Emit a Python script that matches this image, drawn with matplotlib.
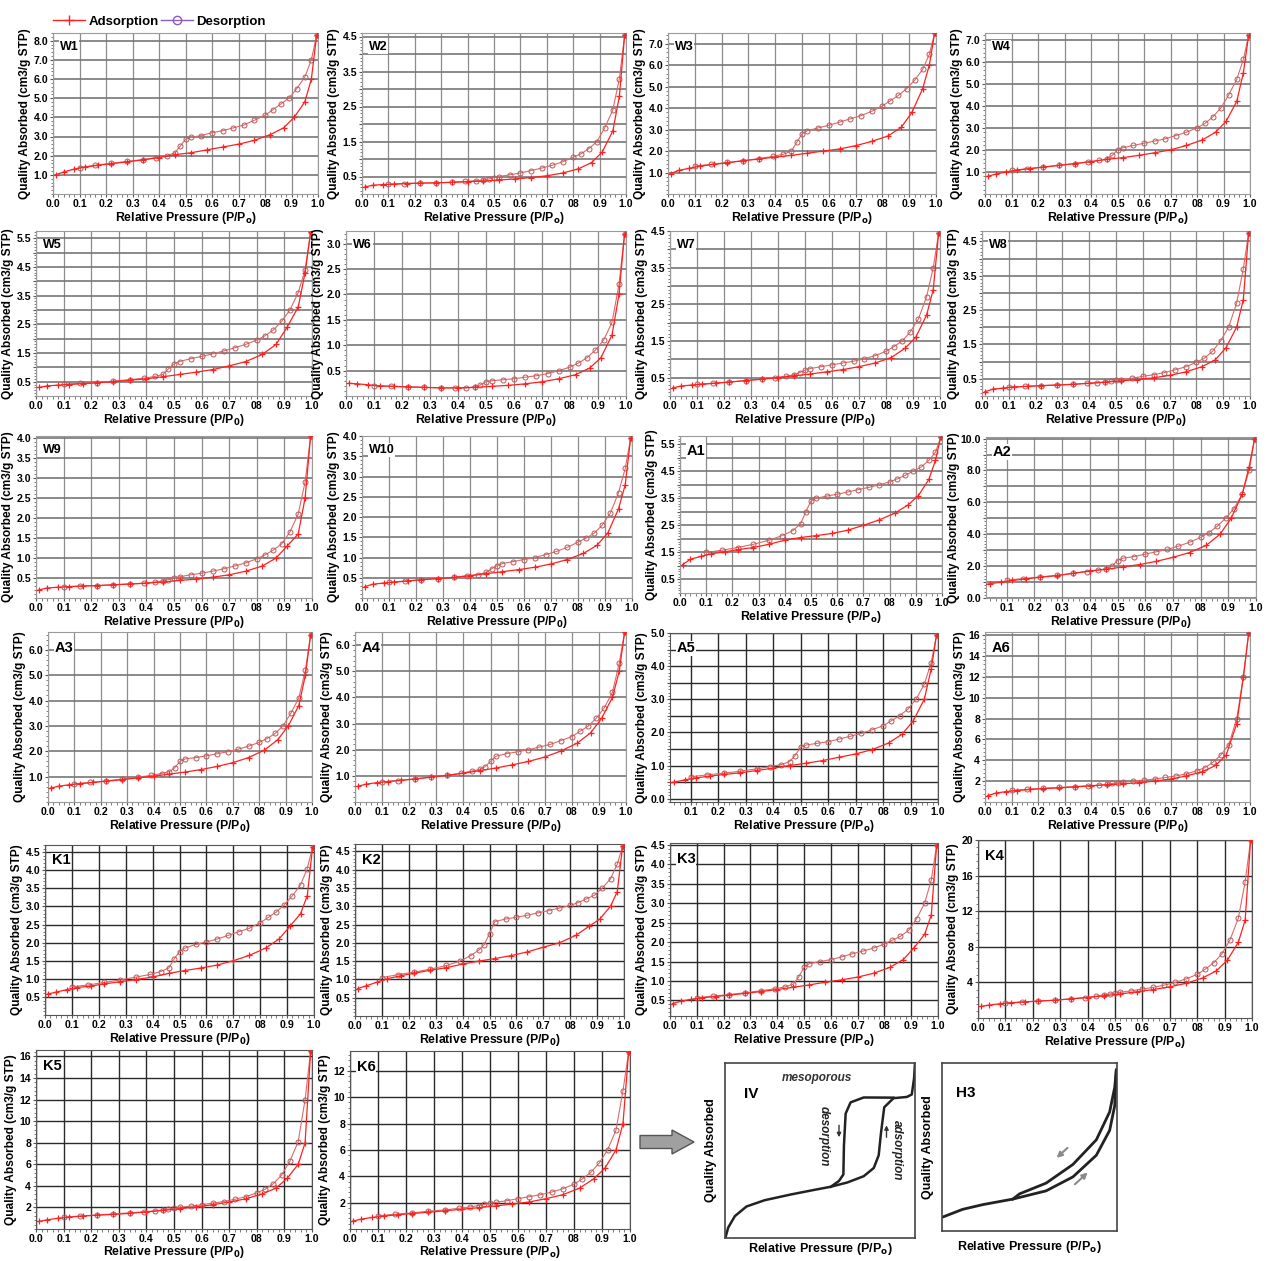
import numpy as np
import matplotlib.pyplot as plt
from matplotlib.lines import Line2D
from matplotlib.patches import FancyArrow
from matplotlib.ticker import FixedLocator, FixedFormatter, MultipleLocator

plt.rcParams['font.family'] = ['Liberation Sans', 'DejaVu Sans']
plt.rcParams['font.weight'] = 'bold'

# relative pressure of the measured points (shared by every sample)
P_ADS = [0.01, 0.04, 0.08, 0.12, 0.17, 0.22, 0.28, 0.34, 0.4, 0.46, 0.52,
         0.58, 0.64, 0.7, 0.76, 0.82, 0.87, 0.91, 0.95, 0.975, 0.995]
P_DES = [0.995, 0.975, 0.95, 0.92, 0.89, 0.86, 0.83, 0.8, 0.76, 0.72, 0.68,
         0.64, 0.6, 0.56, 0.52, 0.5, 0.48, 0.46, 0.43, 0.39, 0.34, 0.28,
         0.22, 0.16, 0.1]

W1_ADS = [1.0, 1.15, 1.3, 1.4, 1.5, 1.58, 1.68, 1.78, 1.9, 2.05, 2.15, 2.3, 2.45, 2.6, 2.8, 3.1, 3.45, 4.0, 4.8, 6.0, 8.3]
W1_DES = [8.3, 7.0, 6.1, 5.5, 5.0, 4.7, 4.4, 4.1, 3.85, 3.6, 3.45, 3.3, 3.2, 3.05, 2.95, 2.85, 2.5, 2.15, 2.0, 1.9, 1.8, 1.7, 1.6, 1.5, 1.38]
W2_ADS = [0.2, 0.25, 0.27, 0.28, 0.3, 0.31, 0.32, 0.33, 0.35, 0.37, 0.4, 0.43, 0.47, 0.52, 0.6, 0.72, 0.9, 1.2, 1.8, 2.8, 4.55]
W2_DES = [4.55, 3.3, 2.4, 1.9, 1.5, 1.3, 1.15, 1.05, 0.92, 0.82, 0.74, 0.67, 0.6, 0.55, 0.5, 0.47, 0.43, 0.4, 0.38, 0.36, 0.34, 0.32, 0.31, 0.3, 0.28]
W3_ADS = [0.95, 1.1, 1.2, 1.3, 1.38, 1.45, 1.55, 1.63, 1.72, 1.8, 1.9, 2.0, 2.1, 2.25, 2.45, 2.7, 3.1, 3.8, 4.9, 6.0, 7.5]
W3_DES = [7.5, 6.5, 5.8, 5.3, 4.9, 4.6, 4.35, 4.1, 3.85, 3.65, 3.5, 3.35, 3.2, 3.08, 2.95, 2.8, 2.4, 2.0, 1.85, 1.75, 1.65, 1.55, 1.47, 1.38, 1.3]
W4_ADS = [0.8, 0.9, 1.0, 1.08, 1.15, 1.22, 1.3, 1.38, 1.47, 1.57, 1.65, 1.75, 1.87, 2.0, 2.2, 2.45, 2.8, 3.3, 4.2, 5.5, 7.2]
W4_DES = [7.2, 6.1, 5.2, 4.5, 3.9, 3.5, 3.2, 3.0, 2.8, 2.65, 2.5, 2.4, 2.3, 2.2, 2.1, 2.0, 1.75, 1.6, 1.52, 1.45, 1.38, 1.3, 1.22, 1.15, 1.07]
W5_ADS = [0.3, 0.35, 0.38, 0.4, 0.43, 0.46, 0.5, 0.55, 0.6, 0.67, 0.75, 0.83, 0.92, 1.05, 1.2, 1.45, 1.8, 2.4, 3.1, 4.3, 5.7]
W5_DES = [5.7, 4.4, 3.6, 3.0, 2.6, 2.3, 2.1, 1.95, 1.8, 1.68, 1.57, 1.47, 1.38, 1.3, 1.2, 1.12, 0.95, 0.75, 0.68, 0.62, 0.57, 0.52, 0.47, 0.44, 0.41]
W6_ADS = [0.25, 0.24, 0.22, 0.2, 0.19, 0.18, 0.17, 0.16, 0.16, 0.17, 0.19, 0.21, 0.24, 0.28, 0.34, 0.42, 0.55, 0.75, 1.2, 2.0, 3.2]
W6_DES = [3.2, 2.2, 1.45, 1.1, 0.9, 0.75, 0.65, 0.57, 0.5, 0.44, 0.4, 0.37, 0.34, 0.32, 0.3, 0.28, 0.22, 0.18, 0.16, 0.16, 0.16, 0.17, 0.18, 0.19, 0.2]
W7_ADS = [0.22, 0.27, 0.3, 0.32, 0.35, 0.38, 0.42, 0.46, 0.5, 0.55, 0.6, 0.66, 0.72, 0.8, 0.9, 1.05, 1.3, 1.6, 2.2, 2.9, 4.45]
W7_DES = [4.45, 3.5, 2.7, 2.1, 1.75, 1.5, 1.35, 1.22, 1.1, 1.02, 0.95, 0.9, 0.85, 0.8, 0.75, 0.7, 0.64, 0.58, 0.54, 0.5, 0.46, 0.42, 0.38, 0.35, 0.32]
W8_ADS = [0.12, 0.2, 0.23, 0.26, 0.28, 0.3, 0.32, 0.34, 0.37, 0.4, 0.44, 0.48, 0.53, 0.6, 0.7, 0.85, 1.05, 1.4, 2.0, 2.8, 4.75]
W8_DES = [4.75, 3.7, 2.7, 2.0, 1.6, 1.3, 1.1, 0.98, 0.85, 0.76, 0.68, 0.62, 0.57, 0.52, 0.48, 0.46, 0.43, 0.41, 0.39, 0.37, 0.34, 0.32, 0.3, 0.28, 0.26]
W9_ADS = [0.2, 0.25, 0.27, 0.28, 0.3, 0.31, 0.33, 0.35, 0.37, 0.4, 0.44, 0.47, 0.52, 0.58, 0.67, 0.8, 1.0, 1.3, 1.6, 2.5, 4.05]
W9_DES = [4.05, 2.9, 2.1, 1.65, 1.35, 1.2, 1.08, 0.98, 0.88, 0.8, 0.73, 0.67, 0.62, 0.58, 0.53, 0.5, 0.46, 0.43, 0.4, 0.37, 0.35, 0.33, 0.31, 0.3, 0.28]
W10_ADS = [0.28, 0.34, 0.37, 0.39, 0.42, 0.45, 0.48, 0.51, 0.55, 0.6, 0.65, 0.7, 0.76, 0.84, 0.95, 1.1, 1.3, 1.6, 2.2, 2.8, 3.95]
W10_DES = [3.95, 3.2, 2.6, 2.1, 1.8, 1.6, 1.48, 1.38, 1.25, 1.15, 1.07, 1.0, 0.95, 0.9, 0.85, 0.8, 0.72, 0.63, 0.58, 0.55, 0.51, 0.48, 0.45, 0.42, 0.39]
A1_ADS = [1.05, 1.25, 1.35, 1.45, 1.52, 1.6, 1.68, 1.8, 1.95, 2.05, 2.12, 2.2, 2.32, 2.5, 2.7, 2.95, 3.25, 3.6, 4.2, 4.9, 5.75]
A1_DES = [5.75, 5.2, 4.9, 4.65, 4.5, 4.35, 4.22, 4.1, 4.0, 3.9, 3.82, 3.73, 3.65, 3.58, 3.5, 3.4, 3.0, 2.55, 2.3, 2.12, 1.95, 1.8, 1.68, 1.58, 1.5]
A2_ADS = [0.8, 0.9, 1.0, 1.1, 1.2, 1.3, 1.4, 1.55, 1.7, 1.8, 1.95, 2.1, 2.3, 2.55, 2.85, 3.3, 4.0, 5.0, 6.5, 8.2, 10.0]
A2_DES = [10.0, 8.0, 6.5, 5.6, 5.0, 4.5, 4.1, 3.8, 3.5, 3.25, 3.05, 2.9, 2.75, 2.6, 2.5, 2.35, 2.0, 1.85, 1.75, 1.65, 1.55, 1.42, 1.32, 1.22, 1.12]
A3_ADS = [0.55, 0.62, 0.68, 0.72, 0.77, 0.82, 0.88, 0.95, 1.02, 1.1, 1.18, 1.28, 1.4, 1.55, 1.75, 2.05, 2.45, 3.0, 3.8, 5.0, 6.6]
A3_DES = [6.6, 5.2, 4.1, 3.5, 3.0, 2.7, 2.5, 2.35, 2.2, 2.08, 1.98, 1.9, 1.82, 1.75, 1.7, 1.6, 1.35, 1.2, 1.12, 1.05, 0.97, 0.9, 0.83, 0.77, 0.72]
A4_ADS = [0.6, 0.68, 0.74, 0.78, 0.83, 0.88, 0.95, 1.02, 1.1, 1.2, 1.3, 1.42, 1.55, 1.72, 1.95, 2.25, 2.65, 3.2, 4.0, 5.0, 6.5]
A4_DES = [6.5, 5.3, 4.2, 3.6, 3.2, 2.9, 2.7, 2.5, 2.35, 2.2, 2.1, 2.0, 1.92, 1.85, 1.75, 1.55, 1.35, 1.25, 1.18, 1.1, 1.02, 0.95, 0.88, 0.82, 0.77]
A5_ADS = [0.45, 0.5, 0.57, 0.63, 0.68, 0.73, 0.78, 0.85, 0.92, 1.0, 1.07, 1.15, 1.25, 1.35, 1.48, 1.68, 1.95, 2.35, 3.0, 3.9, 4.95]
A5_DES = [4.95, 4.1, 3.45, 3.0, 2.7, 2.5, 2.35, 2.2, 2.08, 1.97, 1.88, 1.8, 1.72, 1.67, 1.62, 1.55, 1.3, 1.12, 1.03, 0.97, 0.9, 0.83, 0.77, 0.72, 0.66]
A6_ADS = [0.6, 0.85, 1.0, 1.1, 1.2, 1.28, 1.35, 1.45, 1.55, 1.65, 1.75, 1.85, 2.0, 2.2, 2.5, 2.9, 3.5, 4.5, 7.5, 12.0, 16.2]
A6_DES = [16.2, 12.0, 8.0, 5.5, 4.5, 3.8, 3.3, 3.0, 2.7, 2.5, 2.35, 2.2, 2.1, 2.0, 1.9, 1.85, 1.78, 1.7, 1.62, 1.55, 1.48, 1.4, 1.32, 1.22, 1.12]
K1_ADS = [0.58, 0.63, 0.7, 0.76, 0.8, 0.86, 0.92, 0.98, 1.05, 1.15, 1.23, 1.3, 1.38, 1.5, 1.65, 1.85, 2.1, 2.45, 2.8, 3.3, 4.65]
K1_DES = [4.65, 4.05, 3.6, 3.3, 3.05, 2.85, 2.7, 2.55, 2.4, 2.3, 2.2, 2.1, 2.02, 1.95, 1.85, 1.75, 1.55, 1.3, 1.2, 1.12, 1.05, 0.97, 0.9, 0.83, 0.78]
K2_ADS = [0.75, 0.82, 0.92, 1.02, 1.1, 1.17, 1.25, 1.32, 1.42, 1.5, 1.57, 1.65, 1.75, 1.88, 2.0, 2.2, 2.45, 2.65, 3.0, 3.4, 4.65]
K2_DES = [4.65, 4.15, 3.75, 3.5, 3.3, 3.2, 3.1, 3.02, 2.95, 2.88, 2.82, 2.75, 2.7, 2.65, 2.58, 2.25, 1.95, 1.8, 1.65, 1.5, 1.38, 1.28, 1.2, 1.13, 1.05]
K3_ADS = [0.42, 0.48, 0.53, 0.57, 0.6, 0.64, 0.68, 0.73, 0.78, 0.84, 0.9, 0.97, 1.03, 1.1, 1.2, 1.35, 1.55, 1.85, 2.2, 2.7, 4.5]
K3_DES = [4.5, 3.6, 3.0, 2.6, 2.3, 2.15, 2.05, 1.95, 1.85, 1.77, 1.7, 1.62, 1.55, 1.5, 1.45, 1.35, 1.1, 0.92, 0.85, 0.8, 0.75, 0.7, 0.65, 0.61, 0.57]
K4_ADS = [1.3, 1.45, 1.6, 1.7, 1.8, 1.9, 2.0, 2.15, 2.3, 2.5, 2.7, 2.95, 3.2, 3.5, 3.9, 4.5, 5.3, 6.5, 8.5, 11.0, 20.0]
K4_DES = [20.0, 15.3, 11.2, 8.8, 7.2, 6.2, 5.5, 4.9, 4.4, 4.0, 3.7, 3.45, 3.25, 3.05, 2.9, 2.8, 2.7, 2.6, 2.45, 2.3, 2.15, 2.0, 1.9, 1.8, 1.7]
K5_ADS = [0.7, 0.85, 1.0, 1.1, 1.2, 1.28, 1.35, 1.45, 1.58, 1.72, 1.88, 2.05, 2.25, 2.5, 2.8, 3.25, 3.8, 4.7, 6.0, 8.0, 16.5]
K5_DES = [16.5, 12.0, 8.1, 6.3, 5.0, 4.2, 3.7, 3.35, 3.0, 2.75, 2.55, 2.4, 2.25, 2.12, 2.0, 1.92, 1.85, 1.78, 1.68, 1.6, 1.5, 1.4, 1.3, 1.2, 1.1]
K6_ADS = [0.6, 0.75, 0.88, 0.98, 1.08, 1.17, 1.27, 1.38, 1.5, 1.62, 1.75, 1.9, 2.05, 2.3, 2.6, 3.1, 3.8, 4.6, 6.0, 8.0, 13.4]
K6_DES = [13.4, 10.5, 7.5, 6.0, 5.0, 4.3, 3.8, 3.4, 3.05, 2.8, 2.6, 2.45, 2.3, 2.15, 2.02, 1.95, 1.87, 1.78, 1.68, 1.58, 1.45, 1.35, 1.22, 1.12, 1.0]

NAMES = ['W1', 'W2', 'W3', 'W4', 'W5', 'W6', 'W7', 'W8', 'W9', 'W10',
         'A1', 'A2', 'A3', 'A4', 'A5', 'A6', 'K1', 'K2', 'K3', 'K4', 'K5', 'K6']
ADS = [W1_ADS, W2_ADS, W3_ADS, W4_ADS, W5_ADS, W6_ADS, W7_ADS, W8_ADS, W9_ADS, W10_ADS,
       A1_ADS, A2_ADS, A3_ADS, A4_ADS, A5_ADS, A6_ADS, K1_ADS, K2_ADS, K3_ADS, K4_ADS, K5_ADS, K6_ADS]
DES = [W1_DES, W2_DES, W3_DES, W4_DES, W5_DES, W6_DES, W7_DES, W8_DES, W9_DES, W10_DES,
       A1_DES, A2_DES, A3_DES, A4_DES, A5_DES, A6_DES, K1_DES, K2_DES, K3_DES, K4_DES, K5_DES, K6_DES]

# y axis: limits, grid step and which ticks carry a label
YMIN = [0, 0, 0, 0, 0, 0, 0, 0, 0, 0, 0, 0, 0, 0, -0.1, 0, 0, 0, 0.1, 0, 0, 0]
YMAX = [8.4, 4.6, 7.5, 7.3, 5.75, 3.25, 4.5, 4.8, 4.05, 4.0, 5.8, 10.1, 6.7, 6.5, 5.0, 16.3,
        4.7, 4.7, 4.55, 20.0, 16.6, 13.5]
YSTEP = [1.0, 0.5, 1.0, 1.0, 0.5, 0.5, 0.5, 0.5, 0.5, 0.5, 0.5, 1.0, 1.0, 1.0, 0.5, 2,
         0.5, 0.5, 0.5, 4, 2, 2]
YLAB = [[1, 2, 3, 4, 5, 6, 7, 8], [0.5, 1.5, 2.5, 3.5, 4.5], [1, 2, 3, 4, 5, 6, 7],
        [1, 2, 3, 4, 5, 6, 7], [0.5, 1.5, 2.5, 3.5, 4.5, 5.5], [0.5, 1.0, 1.5, 2.0, 2.5, 3.0],
        [0.5, 1.5, 2.5, 3.5, 4.5], [0.5, 1.5, 2.5, 3.5, 4.5],
        [0.5, 1.0, 1.5, 2.0, 2.5, 3.0, 3.5, 4.0], [0.5, 1.0, 1.5, 2.0, 2.5, 3.0, 3.5, 4.0],
        [0.5, 1.5, 2.5, 3.5, 4.5, 5.5], [0, 2, 4, 6, 8, 10], [1, 2, 3, 4, 5, 6],
        [1, 2, 3, 4, 5, 6], [0, 1, 2, 3, 4, 5], [2, 4, 6, 8, 10, 12, 14, 16],
        [0.5, 1.0, 1.5, 2.0, 2.5, 3.0, 3.5, 4.0, 4.5], [0.5, 1.0, 1.5, 2.0, 2.5, 3.0, 3.5, 4.0, 4.5],
        [0.5, 1.0, 1.5, 2.0, 2.5, 3.0, 3.5, 4.0, 4.5], [4, 8, 12, 16, 20],
        [2, 4, 6, 8, 10, 12, 14, 16], [2, 4, 6, 8, 10, 12]]
XTICKS = [0.0, 0.1, 0.2, 0.3, 0.4, 0.5, 0.6, 0.7, 0.8, 0.9, 1.0]
XTICKLABELS = ['0.0', '0.1', '0.2', '0.3', '0.4', '0.5', '0.6', '0.7', '08', '0.9', '1.0']
SUBSCRIPT = ['o', 'o', 'o', 'o', '0', '0', '0', '0', '0', '0',
             'o', '0', '0', '0', 'o', '0', '0', '0', 'o', 'o', '0', 'o']

# schematic curves (normalised units)
IV_ADS_X = [0.003, 0.017, 0.052, 0.113, 0.209, 0.348, 0.47, 0.557, 0.643, 0.73, 0.783, 0.809,
            0.821, 0.838, 0.887, 0.957, 0.983, 0.995, 1.0]
IV_ADS_Y = [0.005, 0.06, 0.125, 0.18, 0.216, 0.249, 0.275, 0.293, 0.317, 0.353, 0.4, 0.473,
            0.6, 0.747, 0.799, 0.806, 0.82, 0.912, 1.0]
IV_DES_X = [0.887, 0.73, 0.661, 0.635, 0.626, 0.623, 0.6, 0.557]
IV_DES_Y = [0.802, 0.803, 0.775, 0.711, 0.528, 0.363, 0.326, 0.293]
H3_ADS_X = [0.004, 0.118, 0.233, 0.405, 0.595, 0.748, 0.882, 0.958, 0.987, 0.996]
H3_ADS_Y = [0.083, 0.129, 0.157, 0.19, 0.239, 0.322, 0.451, 0.599, 0.746, 0.958]
H3_DES_X = [0.405, 0.443, 0.595, 0.748, 0.882, 0.958, 0.987, 0.996]
H3_DES_Y = [0.19, 0.221, 0.285, 0.396, 0.543, 0.709, 0.856, 0.958]

W, H = 1268, 1261
BOXES = {
    'W1': (53, 318, 33, 194), 'W2': (362, 626, 33, 194), 'W3': (668, 936, 33, 194),
    'W4': (985, 1250, 33, 194),
    'W5': (36, 312, 231, 396), 'W6': (346, 626, 231, 396), 'W7': (670, 940, 231, 396),
    'W8': (982, 1250, 231, 396),
    'W9': (36, 312, 436, 598), 'W10': (362, 632, 436, 598), 'A1': (680, 942, 436, 593),
    'A2': (986, 1256, 437, 598),
    'A3': (48, 312, 632, 802), 'A4': (355, 626, 632, 802), 'A5': (670, 938, 633, 802),
    'A6': (985, 1250, 632, 802),
    'K1': (45, 314, 845, 1015), 'K2': (355, 624, 844, 1016), 'K3': (670, 938, 843, 1016),
    'K4': (978, 1252, 840, 1018),
    'K5': (36, 312, 1050, 1229), 'K6': (350, 630, 1051, 1229),
    'IV': (725, 915, 1063, 1238), 'H3': (942, 1117, 1063, 1231),
}

ADS_C = '#ff2020'
DES_C = '#e06868'
DES_EDGE = '#b85a5a'


def px_axes(fig, box):
    x0, x1, y0, y1 = box
    return fig.add_axes([x0 / W, 1 - y1 / H, (x1 - x0) / W, (y1 - y0) / H])


fig = plt.figure(figsize=(W / 100, H / 100), dpi=100)

for i, name in enumerate(NAMES):
    ax = px_axes(fig, BOXES[name])
    dark = name.startswith('K') or name == 'A5'
    ax.set_axisbelow(True)
    ax.plot(P_DES, DES[i], color=DES_C, lw=0.8, marker='o', ms=3.6, mfc='none',
            mec=DES_EDGE, mew=0.7, zorder=3)
    ax.plot(P_ADS, ADS[i], color=ADS_C, lw=0.9, marker='+', ms=4.5, mew=0.9, zorder=4)

    xmin = 0.025 if name in ('A2', 'A5') else 0.0
    ax.set_xlim(xmin, 1.0)
    ax.set_ylim(YMIN[i], YMAX[i])
    if xmin > 0:
        ax.xaxis.set_major_locator(FixedLocator(XTICKS[1:]))
        ax.xaxis.set_major_formatter(FixedFormatter(XTICKLABELS[1:]))
    else:
        ax.xaxis.set_major_locator(FixedLocator(XTICKS))
        ax.xaxis.set_major_formatter(FixedFormatter(XTICKLABELS))
    ax.xaxis.set_minor_locator(MultipleLocator(0.02))

    step = YSTEP[i]
    start = min(YLAB[i])
    pos = list(np.arange(start, YMAX[i] + 1e-6, step))
    intfmt = step >= 2
    labs = []
    for p in pos:
        if any(abs(p - v) < 1e-6 for v in YLAB[i]):
            labs.append('%d' % round(p) if intfmt else '%.1f' % p)
        else:
            labs.append('')
    ax.yaxis.set_major_locator(FixedLocator(pos))
    ax.yaxis.set_major_formatter(FixedFormatter(labs))
    ax.yaxis.set_minor_locator(MultipleLocator(step / 5))

    if dark:
        ax.grid(True, which='major', color='#2a2a2a', lw=1.0)
    else:
        ax.xaxis.grid(True, which='major', color='#8c8c8c', lw=0.9)
        ax.yaxis.grid(True, which='major', color='#777777', lw=1.2)
    ax.tick_params(which='major', length=2, width=0.8, labelsize=7.6, pad=1.5,
                   color='#555555')
    ax.tick_params(which='minor', length=1.8, width=0.6, color='#666666')
    for lab in ax.get_xticklabels() + ax.get_yticklabels():
        lab.set_fontweight('bold')
    for sp in ax.spines.values():
        sp.set_color('#555555' if dark else '#9a9a9a')
        sp.set_linewidth(0.8)

    bottom_row = name in ('K5', 'K6')
    ax.set_xlabel('Relative Pressure (P/P$_{\\mathbf{%s}}$)' % SUBSCRIPT[i],
                  fontsize=8.8, fontweight='bold', labelpad=0 if bottom_row else 0.5)
    ax.set_ylabel('Quality Absorbed (cm3/g STP)', fontsize=8.6, fontweight='bold',
                  labelpad=0.5 if name == 'A2' else 1.5)
    big = name[0] in 'AK'
    ax.text(0.025, 0.95, name, transform=ax.transAxes, va='top', ha='left',
            fontsize=10.5 if big else 9, fontweight='bold', zorder=6,
            bbox=dict(facecolor='white', edgecolor='none', pad=0.5))

# legend at the top left
handles = [Line2D([], [], color=ADS_C, lw=1.0, marker='+', ms=7, mew=1.0),
           Line2D([], [], color='#8a5cc0', lw=1.0, marker='o', ms=6, mfc='none', mew=1.0)]
fig.legend(handles, ['Adsorption', 'Desorption'], loc='upper left',
           bbox_to_anchor=(48 / W, 1 - 10 / H), ncol=2, frameon=False,
           prop={'size': 9.5, 'weight': 'bold'}, handlelength=2.4,
           handletextpad=0.25, columnspacing=0.2, borderaxespad=0)

# schematic type IV isotherm
ax = px_axes(fig, BOXES['IV'])
ax.plot(IV_ADS_X, IV_ADS_Y, color='#222222', lw=1.8)
ax.plot(IV_DES_X, IV_DES_Y, color='#222222', lw=1.8)
ax.set_xlim(0, 1.0)
ax.set_ylim(0, 1.0)
ax.set_xticks([])
ax.set_yticks([])
ax.text(0.1, 0.8, 'IV', transform=ax.transAxes, fontsize=11, fontweight='bold')
ax.text(0.3, 0.9, 'mesoporous', transform=ax.transAxes, fontsize=8.5,
        fontweight='bold', style='italic', color='#333333')
ax.text(0.52, 0.58, 'desorption', transform=ax.transAxes, rotation=-90, fontsize=8.5,
        style='italic', ha='center', va='center', color='#222222')
ax.text(0.905, 0.5, 'adsorption', transform=ax.transAxes, rotation=-90, fontsize=8.5,
        style='italic', ha='center', va='center', color='#222222')
ax.annotate('', xy=(0.6, 0.56), xytext=(0.6, 0.66), xycoords='axes fraction',
            arrowprops=dict(arrowstyle='-|>', color='#333333', lw=1.0,
                            mutation_scale=6))
ax.annotate('', xy=(0.85, 0.66), xytext=(0.85, 0.56), xycoords='axes fraction',
            arrowprops=dict(arrowstyle='-|>', color='#333333', lw=1.0,
                            mutation_scale=6))
ax.set_xlabel('Relative Pressure (P/P$_{\\mathbf{o}}$)', fontsize=9, fontweight='bold',
              labelpad=2)
ax.set_ylabel('Quality Absorbed', fontsize=9, fontweight='bold', labelpad=6)
for sp in ax.spines.values():
    sp.set_color('#444444')
    sp.set_linewidth(1.2)

# schematic H3 hysteresis loop
ax = px_axes(fig, BOXES['H3'])
ax.plot(H3_ADS_X, H3_ADS_Y, color='#222222', lw=2.0)
ax.plot(H3_DES_X, H3_DES_Y, color='#222222', lw=2.0)
ax.set_xlim(0, 1.0)
ax.set_ylim(0, 1.0)
ax.set_xticks([])
ax.set_yticks([])
ax.text(0.08, 0.8, 'H3', transform=ax.transAxes, fontsize=11, fontweight='bold')
ax.annotate('', xy=(0.643, 0.424), xytext=(0.729, 0.506), xycoords='axes fraction',
            arrowprops=dict(arrowstyle='-|>', color='#8a8a8a', lw=1.5,
                            mutation_scale=8))
ax.annotate('', xy=(0.844, 0.359), xytext=(0.748, 0.267), xycoords='axes fraction',
            arrowprops=dict(arrowstyle='-|>', color='#8a8a8a', lw=1.5,
                            mutation_scale=8))
ax.set_xlabel('Relative Pressure (P/P$_{\\mathbf{o}}$)', fontsize=9, fontweight='bold',
              labelpad=6)
ax.set_ylabel('Quality Absorbed', fontsize=9, fontweight='bold', labelpad=6)
for sp in ax.spines.values():
    sp.set_color('#444444')
    sp.set_linewidth(1.2)

# grey block arrow pointing at the schematics
fig.patches.append(FancyArrow(640 / W, 1 - 1142 / H, 32 / W, 0, width=13 / H,
                              head_width=24 / H, head_length=22 / W,
                              length_includes_head=False, transform=fig.transFigure,
                              facecolor='#a0a0a0', edgecolor='#555555', lw=1.0))

fig.savefig('out.png', dpi=100)
